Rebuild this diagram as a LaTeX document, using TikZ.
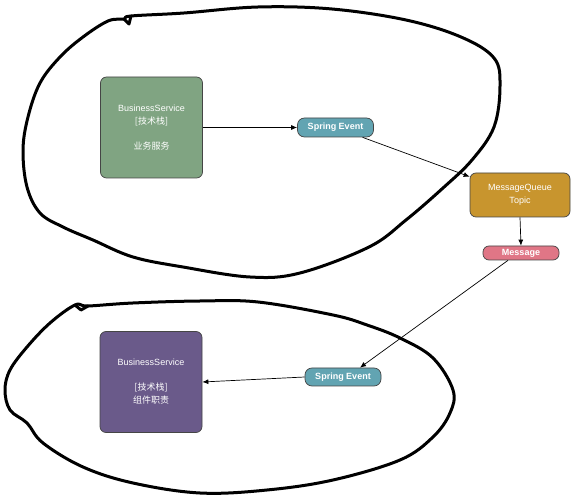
\documentclass[tikz,border=0pt]{standalone}
\usepackage{fontspec}
\setmainfont{Liberation Sans}
\newfontfamily\cjk{Noto Sans CJK SC}
\usetikzlibrary{arrows.meta}
\definecolor{gboxc}{HTML}{80A482}
\definecolor{pboxc}{HTML}{6A5A8A}
\definecolor{tealc}{HTML}{62A4B2}
\definecolor{goldc}{HTML}{C8952E}
\definecolor{pinkc}{HTML}{E07686}
\definecolor{edgec}{HTML}{454545}
\tikzset{
  svcbox/.style={draw=edgec, line width=0.7pt, rounded corners=6pt, text=white, align=center,
    minimum width=102pt, minimum height=101pt, inner sep=0pt, font=\fontsize{9}{13}\selectfont},
  pill/.style={draw=edgec, line width=0.7pt, rounded corners=7pt, text=white, align=center,
    minimum width=76pt, inner sep=0pt, font=\bfseries\fontsize{9}{10}\selectfont},
  mqbox/.style={draw=edgec, line width=0.7pt, rounded corners=6pt, text=white, align=center,
    minimum width=100pt, minimum height=44pt, inner sep=0pt, font=\fontsize{9}{13}\selectfont},
  conn/.style={line width=0.7pt, -{Latex[length=6pt,width=5pt]}},
  blob/.style={line width=3pt, line join=round, line cap=round}
}
\begin{document}
\begin{tikzpicture}[x=1pt,y=-1pt]
\useasboundingbox (0,0) rectangle (576,502);
% hand-drawn outlines
\draw[blob] plot[smooth cycle, tension=0.6] coordinates {
  (131,16) (184,13) (258,7) (332,9) (406,20) (461,37) (494,58) (500,86) (494,127)
  (472,160) (443,188) (406,220) (369,247) (300,273) (250,277) (183,267) (133,257)
  (93,240) (63,227) (40,213) (27,187) (23,150) (28,117) (40,83) (60,57) (83,37)
  (108,21) (124,19)};
\draw[blob] (124,19) -- (129,24) -- (131,16);
\draw[blob] plot[smooth cycle, tension=0.6] coordinates {
  (88,306) (133,303) (200,301) (258,302) (333,315) (367,325) (400,338) (433,358)
  (453,390) (450,413) (433,437) (400,460) (333,480) (267,490) (200,493) (133,483)
  (83,467) (43,443) (27,423) (10,410) (5,390) (10,370) (27,347) (50,323) (75,305)};
\draw[blob] (75,305) -- (81,310) -- (88,306);
% nodes
\node[svcbox, fill=gboxc] (svc1) at (151.5,127.5) {BusinessService\\{\cjk [技术栈]}\\[12pt]{\cjk 业务服务}};
\node[pill, fill=tealc, minimum height=19pt] (se1) at (335.5,127.5) {Spring Event};
\node[mqbox, fill=goldc] (mq) at (520,195) {MessageQueue\\Topic};
\node[pill, fill=pinkc, minimum height=14pt, rounded corners=6pt] (msg) at (521,253) {Message};
\node[pill, fill=tealc, minimum height=18pt] (se2) at (343,377) {Spring Event};
\node[svcbox, fill=pboxc] (svc2) at (151,382) {BusinessService\\[12pt]{\cjk [技术栈]}\\{\cjk 组件职责}};
% connectors
\draw[conn] (svc1.east) -- (se1.west);
\draw[conn] (se1.-20) -- (mq.160);
\draw[conn] (mq.south) -- (msg.north);
\draw[conn] ([xshift=-13pt]msg.south) -- ([xshift=17pt]se2.north);
\draw[conn] (se2.west) -- (svc2.east);
\end{tikzpicture}
\end{document}
